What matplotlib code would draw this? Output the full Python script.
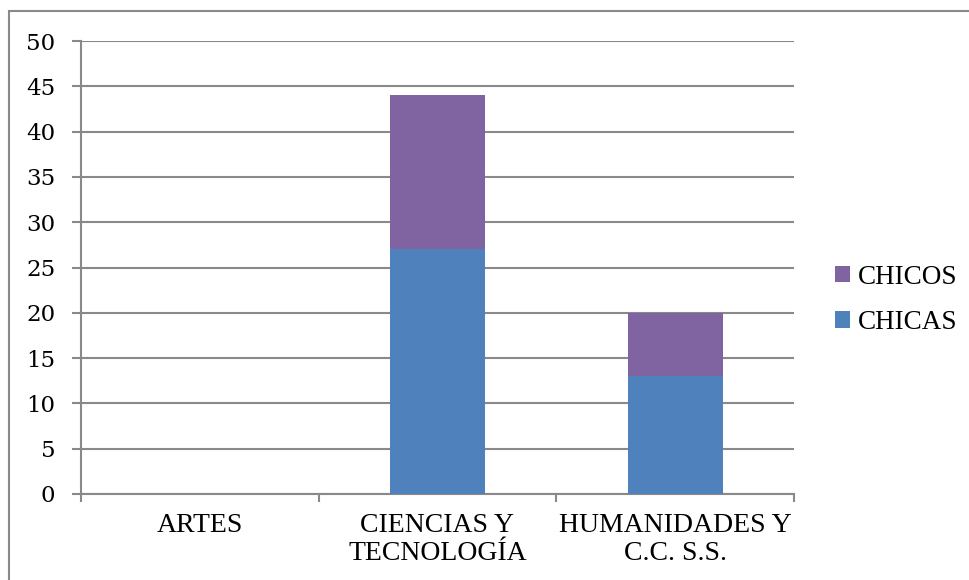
import matplotlib.pyplot as plt
import matplotlib.patches as mpatches
import numpy as np

plt.rcParams["font.family"] = ["Liberation Serif", "DejaVu Serif"]

categorias = ["ARTES", "CIENCIAS Y\nTECNOLOGÍA", "HUMANIDADES Y\nC.C. S.S."]
chicas = [0, 27, 13]
chicos = [0, 17, 7]
yticks = list(range(0, 51, 5))

azul = "#4F81BD"
morado = "#8064A2"
gris = "#898989"

fig = plt.figure(figsize=(9.69, 5.80), dpi=100)
ax = fig.add_axes([81/969, 86/580, (794-81)/969, (494-41)/580])

# marco exterior del gráfico
fig.patches.append(mpatches.Rectangle((9/969, -0.2), 1.2, 1.2 - 11/580,
                                      transform=fig.transFigure, fill=False,
                                      edgecolor=gris, linewidth=1.5))

x = np.arange(len(categorias))
ax.bar(x, chicas, width=0.4, color=azul, label="CHICAS", zorder=3)
ax.bar(x, chicos, width=0.4, bottom=chicas, color=morado, label="CHICOS", zorder=3)

ax.set_xlim(-0.5, 2.5)
ax.set_ylim(0, 50)
ax.set_yticks(yticks)
ax.set_yticklabels([str(v) for v in yticks], fontfamily="DejaVu Serif", fontsize=16.5)
ax.yaxis.grid(True, color=gris, linewidth=1.5, zorder=0)

ax.set_xticks(x)
ax.set_xticklabels(categorias, fontsize=20, linespacing=1.15)
ax.set_xticks(np.arange(-0.5, 3, 1), minor=True)
ax.tick_params(axis="x", which="major", length=0, pad=14)
ax.tick_params(axis="x", which="minor", length=6, width=1.5, color=gris, direction="out")
ax.tick_params(axis="y", length=6.5, width=1.5, color=gris, pad=12)

for s in ["top", "right"]:
    ax.spines[s].set_visible(False)
for s in ["left", "bottom"]:
    ax.spines[s].set_color(gris)
    ax.spines[s].set_linewidth(1.5)

h, l = ax.get_legend_handles_labels()
leg = fig.legend(h[::-1], l[::-1], loc="center left", bbox_to_anchor=(835/969, 1 - 300/580),
                 frameon=False, fontsize=19.5,
                 handlelength=0.55, handleheight=0.55, handletextpad=0.3,
                 labelspacing=0.75, borderaxespad=0, borderpad=0)

fig.savefig("out.png", dpi=100)
